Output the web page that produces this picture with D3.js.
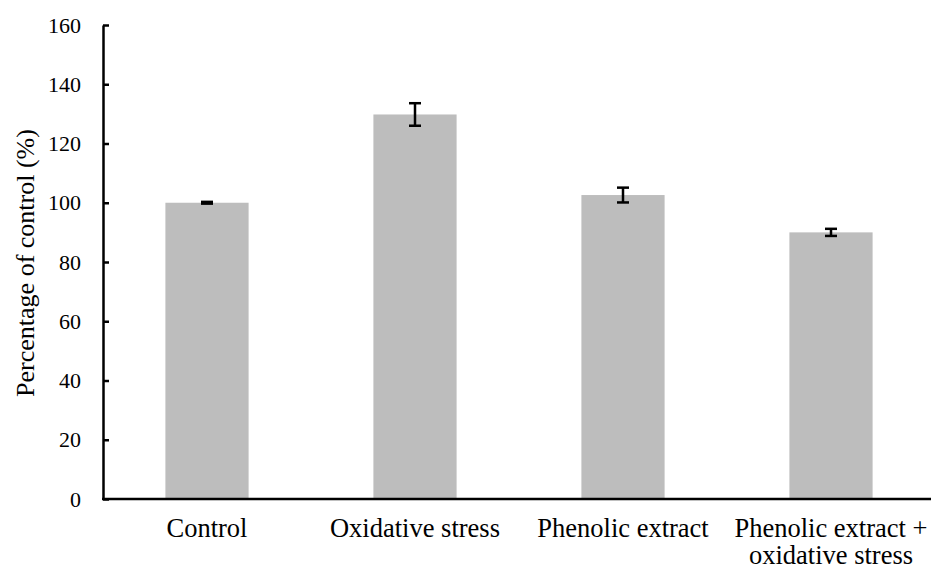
<!DOCTYPE html>
<html><head><meta charset="utf-8">
<script src="https://cdn.jsdelivr.net/npm/d3@7"></script>
<style>body{margin:0;background:#fff}svg{display:block}</style>
</head><body>
<svg id="c" width="931" height="570"></svg>
<script>
const categories = [["Control"], ["Oxidative stress"], ["Phenolic extract"], ["Phenolic extract +", "oxidative stress"]];
const values = [100, 129.8, 102.6, 90.0];
const errors = [0.3, 3.8, 2.5, 1.2];
const yTicks = [0, 20, 40, 60, 80, 100, 120, 140, 160];
const yTitle = "Percentage of control (%)";

const svg = d3.select("#c");
const x = d3.scaleBand().domain(d3.range(categories.length)).range([103, 935]);
const y = d3.scaleLinear().domain([0, 160]).range([499, 25]);
const bw = x.bandwidth() * 0.4;
const font = "'Liberation Serif','Times New Roman',serif";

// bars
svg.selectAll("rect.bar").data(values).enter().append("rect")
  .attr("x", (d, i) => x(i) + x.bandwidth() / 2 - bw / 2)
  .attr("y", d => y(d))
  .attr("width", bw)
  .attr("height", d => y(0) - y(d))
  .attr("fill", "#bdbdbd");

// error bars
const eg = svg.append("g").attr("stroke", "#000").attr("stroke-width", 2.5);
values.forEach((v, i) => {
  const cx = x(i) + x.bandwidth() / 2;
  eg.append("line").attr("x1", cx).attr("x2", cx).attr("y1", y(v + errors[i])).attr("y2", y(v - errors[i]));
  eg.append("line").attr("x1", cx - 6).attr("x2", cx + 6).attr("y1", y(v + errors[i])).attr("y2", y(v + errors[i]));
  eg.append("line").attr("x1", cx - 6).attr("x2", cx + 6).attr("y1", y(v - errors[i])).attr("y2", y(v - errors[i]));
});

// y axis
const ya = svg.append("g").attr("transform", "translate(103,0)")
  .call(d3.axisLeft(y).tickValues(yTicks).tickSize(-6).tickPadding(22).tickSizeOuter(0));
ya.select(".domain").attr("stroke", "#000").attr("stroke-width", 2.5);
ya.selectAll(".tick line").attr("stroke", "#000").attr("stroke-width", 2.5);
ya.selectAll("text").attr("font-family", font).attr("font-size", 22).attr("fill", "#000");

// x axis line
svg.append("line").attr("x1", 102).attr("x2", 931).attr("y1", y(0)).attr("y2", y(0))
  .attr("stroke", "#000").attr("stroke-width", 2.5);

// category labels
categories.forEach((lines, i) => {
  const t = svg.append("text").attr("text-anchor", "middle")
    .attr("font-family", font).attr("font-size", 26.5).attr("fill", "#000");
  lines.forEach((l, j) => {
    t.append("tspan").attr("x", x(i) + x.bandwidth() / 2).attr("y", 537 + j * 27).text(l);
  });
});

// y title
svg.append("text").attr("transform", "translate(34,263) rotate(-90)")
  .attr("text-anchor", "middle").attr("font-family", font).attr("font-size", 26)
  .attr("fill", "#000").text(yTitle);
</script>
</body></html>
